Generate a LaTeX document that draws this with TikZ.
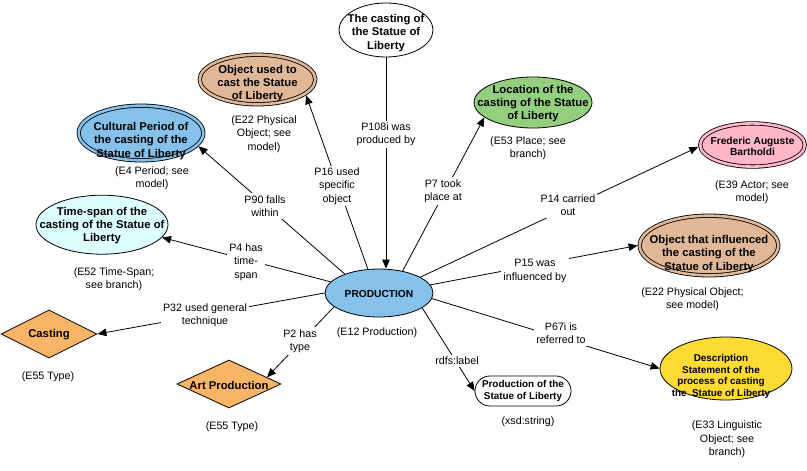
\documentclass[tikz,border=0pt]{standalone}
\usepackage{fontspec}
\setmainfont{Liberation Sans}
\usetikzlibrary{shapes.geometric,shapes.misc,arrows.meta}
\definecolor{periodblue}{HTML}{85C1EA}
\definecolor{objtan}{HTML}{E0B897}
\definecolor{placegreen}{HTML}{93CF7E}
\definecolor{actorpink}{HTML}{FFB8C8}
\definecolor{spancyan}{HTML}{DDFEFE}
\definecolor{docyellow}{HTML}{FDDB33}
\definecolor{typeorange}{HTML}{F9B566}
\begin{document}
\begin{tikzpicture}[x=1pt,y=-1pt,
  shp/.style={draw, line width=0.8pt, inner sep=0pt},
  ell/.style={shp, ellipse},
  dbl/.style={fill=#1, double=#1, double distance=2.6pt, outer sep=2.1pt},
  big/.style={font=\bfseries\fontsize{11.3}{13.3}\selectfont, align=center, inner sep=0pt},
  mid/.style={font=\bfseries\fontsize{10.2}{11.7}\selectfont, align=center, inner sep=0pt},
  sml/.style={font=\bfseries\fontsize{9.9}{11.7}\selectfont, align=center, inner sep=0pt},
  note/.style={font=\fontsize{10.7}{13.3}\selectfont, align=center, inner sep=0pt},
  rel/.style={note, fill=white, inner sep=2pt},
  arr/.style={line width=0.8pt, -{Triangle[length=9pt,width=7.5pt]}},
]
\path[use as bounding box] (0,0) rectangle (807,471);

% central event
\node[ell, fill=periodblue, minimum width=108pt, minimum height=48pt,
      label={[mid,yshift=-1pt]center:{PRODUCTION}}] (prod) at (379,293) {};
\node[note] (prodnote) at (377,333) {(E12 Production)};

% surrounding entities
\node[ell, fill=white, minimum width=94pt, minimum height=54pt,
      label={[big,yshift=-3pt]center:{The casting of\\the Statue of\\Liberty}}] (cast) at (386,30) {};

\node[ell, dbl=objtan, minimum width=115.6pt, minimum height=49.6pt,
      label={[big,yshift=-4pt]center:{Object used to\\cast the Statue\\of Liberty}}] (obj) at (257.5,79.5) {};
\node[note] (objnote) at (264,134) {(E22 Physical\\Object; see\\model)};

\node[ell, dbl=periodblue, minimum width=124.6pt, minimum height=54.6pt,
      label={[big,yshift=-8pt]center:{Cultural Period of\\the casting of the\\Statue of Liberty}}] (per) at (141,133) {};
\node[note] (pernote) at (152,178.5) {(E4 Period; see\\model)};

\node[ell, fill=spancyan, minimum width=132pt, minimum height=59pt,
      label={[big,yshift=-1pt]center:{Time-span of the\\casting of the Statue of\\Liberty}}] (time) at (102,224.7) {};
\node[note] (timenote) at (114,279) {(E52 Time-Span;\\see branch)};

\node[shp, diamond, fill=typeorange, minimum width=96pt, minimum height=48pt, aspect=2,
      label={[big,yshift=-1pt]center:{Casting}}] (casting) at (49,334) {};
\node[note] (castingnote) at (48,377) {(E55 Type)};

\node[shp, diamond, fill=typeorange, minimum width=104pt, minimum height=48pt, aspect=2,
      label={[big,yshift=-1pt]center:{Art Production}}] (art) at (229,384) {};
\node[note] (artnote) at (232,427) {(E55 Type)};

\node[shp, rounded rectangle, fill=white, minimum width=96pt, minimum height=30pt,
      label={[sml]center:{Production of the\\Statue of Liberty}}] (str) at (523,391) {};
\node[note] (strnote) at (528,422) {(xsd:string)};

\node[ell, fill=placegreen, minimum width=118pt, minimum height=51pt,
      label={[big,yshift=-1pt]center:{Location of the\\casting of the Statue\\of Liberty}}] (loc) at (533,102.5) {};
\node[note] (locnote) at (528,148.5) {(E53 Place; see\\branch)};

\node[ell, dbl=actorpink, minimum width=104.6pt, minimum height=43.2pt,
      label={[mid,yshift=-1.5pt]center:{Frederic Auguste\\Bartholdi}}] (bart) at (752.5,145) {};
\node[note] (bartnote) at (752,192) {(E39 Actor; see\\model)};

\node[ell, dbl=objtan, minimum width=138.6pt, minimum height=59.6pt,
      label={[big,yshift=-8.5pt]center:{Object that influenced\\the casting of the\\Statue of Liberty}}] (infl) at (709,245.5) {};
\node[note] (inflnote) at (692.5,299) {(E22 Physical Object;\\see model)};

\node[ell, fill=docyellow, minimum width=132pt, minimum height=63pt,
      label={[sml,xshift=-5pt,yshift=-8pt]center:{Description\\Statement of the\\process of casting\\the~ Statue of Liberty}}] (desc) at (726,368.5) {};
\node[note] (descnote) at (727,439.5) {(E33 Linguistic\\Object; see\\branch)};

% properties
\draw[arr] (cast.south) -- (cast.south |- prod.north);
\draw[arr] (prod.115) -- (obj.-18);
\draw[arr] (prod.151) -- (per.-13);
\draw[arr] (prod.167) -- (time.-12);
\draw[arr] (prod.180) -- (casting.east);
\draw[arr] (prod.197) -- (art.10);
\draw[arr] (prod.-19) -- (str.west);
\draw[arr] (prod.-6) -- (desc.west);
\draw[arr] (prod.9) -- (infl.west);
\draw[arr] (prod.21) -- (bart.182);
\draw[arr] (prod.43) -- (loc.197);

% property names
\node[rel] (p108) at (386,134.5) {P108i was\\produced by};
\node[rel] (p16) at (337,186) {P16 used\\specific\\object};
\node[rel] (p90) at (265,206) {P90 falls\\within};
\node[rel] (p4) at (246,262) {P4 has\\time-\\span};
\node[rel] (p32) at (205,315) {P32 used general\\technique};
\node[rel] (p2) at (300,341) {P2 has\\type};
\node[rel] (rdfs) at (457,361) {rdfs:label};
\node[rel] (p67) at (561,333) {P67i is\\referred to};
\node[rel] (p15) at (535,271) {P15 was\\influenced by};
\node[rel] (p14) at (568,205) {P14 carried\\out};
\node[rel] (p7) at (443,191) {P7 took\\place at};
\end{tikzpicture}
\end{document}
